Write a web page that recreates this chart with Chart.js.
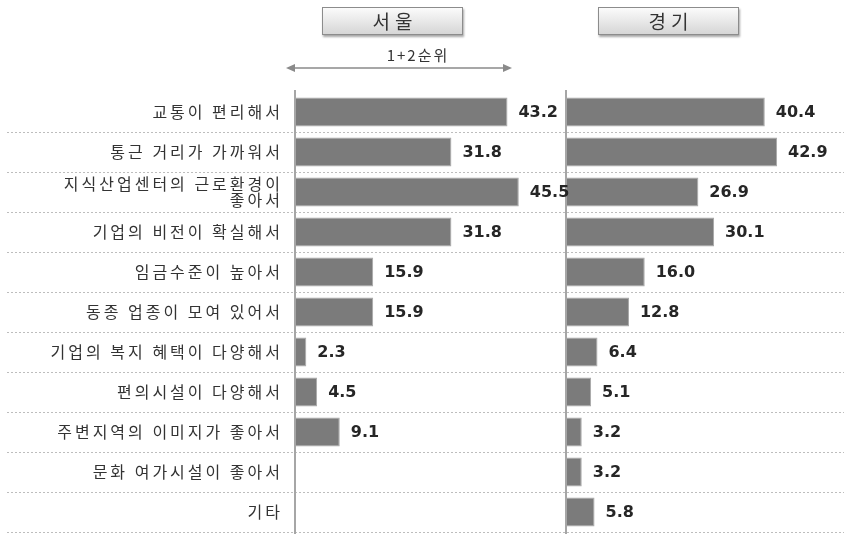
<!DOCTYPE html>
<html>
<head>
<meta charset="utf-8">
<script src="https://cdn.jsdelivr.net/npm/chart.js@4"></script>
<style>
  html, body { margin: 0; padding: 0; background: #fff; }
  #wrap { position: relative; width: 844px; height: 534px; overflow: hidden; }
  #myChart { position: absolute; left: 0; top: 0; }
  .hdr {
    position: absolute; top: 7px; width: 141px; height: 28px;
    box-sizing: border-box; padding-left: 5px;
    border: 1px solid #8c8c8c;
    background: linear-gradient(#fbfbfb, #d6d6d6);
    box-shadow: 1px 2px 2px rgba(0, 0, 0, 0.35);
    font: 19px 'Noto Sans CJK KR', sans-serif; letter-spacing: 5px;
    color: #333; text-align: center; line-height: 26px;
  }
  #rank {
    position: absolute; left: 340px; top: 44px; width: 156px; text-align: center;
    font: 15px 'Noto Sans CJK KR', sans-serif; letter-spacing: 2px; color: #333;
  }
  #arrow { position: absolute; left: 284px; top: 60px; }
</style>
</head>
<body>
<div id="wrap">
  <canvas id="myChart" width="844" height="534"></canvas>
  <div class="hdr" id="h0" style="left:322px"></div>
  <div class="hdr" id="h1" style="left:598px"></div>
  <div id="rank">1+2순위</div>
  <svg id="arrow" width="236" height="16">
    <line x1="8" y1="8" x2="222" y2="8" stroke="#8a8a8a" stroke-width="1.5"/>
    <polygon points="2,8 11,4 11,12" fill="#8a8a8a"/>
    <polygon points="228,8 219,4 219,12" fill="#8a8a8a"/>
  </svg>
</div>
<script>
// data
const categories = [
  "교통이 편리해서",
  "통근 거리가 가까워서",
  ["지식산업센터의 근로환경이", "좋아서"],
  "기업의 비전이 확실해서",
  "임금수준이 높아서",
  "동종 업종이 모여 있어서",
  "기업의 복지 혜택이 다양해서",
  "편의시설이 다양해서",
  "주변지역의 이미지가 좋아서",
  "문화 여가시설이 좋아서",
  "기타",
];
const panels = ["서울", "경기"];
const seoul = [43.2, 31.8, 45.5, 31.8, 15.9, 15.9, 2.3, 4.5, 9.1, null, null];
const gyeonggi = [40.4, 42.9, 26.9, 30.1, 16.0, 12.8, 6.4, 5.1, 3.2, 3.2, 5.8];

document.getElementById("h0").textContent = panels[0];
document.getElementById("h1").textContent = panels[1];

const labelFont = "'Noto Sans CJK KR', 'Noto Sans', sans-serif";

// dotted row separators, panel axis lines, value labels
const framePlugin = {
  id: "frame",
  beforeDraw(chart) {
    chart.ctx.letterSpacing = "3px";
  },
  beforeDatasetsDraw(chart) {
    const { ctx } = chart;
    const y = chart.scales.y;
    ctx.save();
    ctx.letterSpacing = "0px";
    ctx.strokeStyle = "#bdbdbd";
    ctx.lineWidth = 1;
    ctx.setLineDash([2, 2]);
    for (let i = 0; i < categories.length; i++) {
      const yy = Math.round(y.getPixelForValue(i + 0.5)) + 0.5;
      ctx.beginPath();
      ctx.moveTo(7, yy);
      ctx.lineTo(844, yy);
      ctx.stroke();
    }
    ctx.restore();
  },
  afterDatasetsDraw(chart) {
    const { ctx, chartArea } = chart;
    ctx.save();
    ctx.letterSpacing = "0px";
    ctx.strokeStyle = "#a6a6a6";
    ctx.lineWidth = 2;
    ["x1", "x2"].forEach((id) => {
      const x = chart.scales[id].getPixelForValue(0);
      ctx.beginPath();
      ctx.moveTo(x, chartArea.top - 2);
      ctx.lineTo(x, chartArea.bottom + 2);
      ctx.stroke();
    });
    ctx.fillStyle = "#262626";
    ctx.font = "bold 16px 'DejaVu Sans', sans-serif";
    ctx.textAlign = "left";
    ctx.textBaseline = "middle";
    chart.data.datasets.forEach((ds, di) => {
      chart.getDatasetMeta(di).data.forEach((bar, i) => {
        const v = ds.data[i];
        if (v === null || v === undefined) return;
        ctx.fillText(v.toFixed(1), bar.x + 11, bar.y + 1);
      });
    });
    ctx.restore();
  },
};

const data = {
  labels: categories,
  datasets: [
    {
      label: panels[0],
      data: seoul,
      xAxisID: "x1",
      grouped: false,
      backgroundColor: "#7b7b7b",
      borderColor: "#a8a8a8",
      borderWidth: 1,
      barPercentage: 0.72,
      categoryPercentage: 1,
    },
    {
      label: panels[1],
      data: gyeonggi,
      xAxisID: "x2",
      grouped: false,
      backgroundColor: "#7b7b7b",
      borderColor: "#a8a8a8",
      borderWidth: 1,
      barPercentage: 0.72,
      categoryPercentage: 1,
    },
  ],
};

const hideHeight = (scale) => { scale.height = 0; };

const config = {
  type: "bar",
  data,
  options: {
    indexAxis: "y",
    responsive: false,
    animation: false,
    layout: { padding: { top: 92, bottom: 2, left: 0, right: 0 } },
    scales: {
      x1: {
        type: "linear", position: "bottom", stack: "panels", stackWeight: 271,
        min: 0, max: 55.1, display: false, afterFit: hideHeight,
      },
      x2: {
        type: "linear", position: "bottom", stack: "panels", stackWeight: 278,
        min: 0, max: 56.5, display: false, afterFit: hideHeight,
      },
      y: {
        type: "category",
        position: "left",
        grid: { display: false, drawTicks: false },
        border: { display: false },
        ticks: {
          padding: 12,
          color: "#333333",
          font: { family: labelFont, size: 16, lineHeight: 1.0 },
        },
        afterFit(scale) {
          scale.width = 295;
          scale.paddingTop = 0;
          scale.paddingBottom = 0;
        },
      },
    },
    plugins: {
      legend: { display: false },
      tooltip: { enabled: false },
    },
  },
  plugins: [framePlugin],
};

const myChart = new Chart(document.getElementById("myChart"), config);
</script>
</body>
</html>
